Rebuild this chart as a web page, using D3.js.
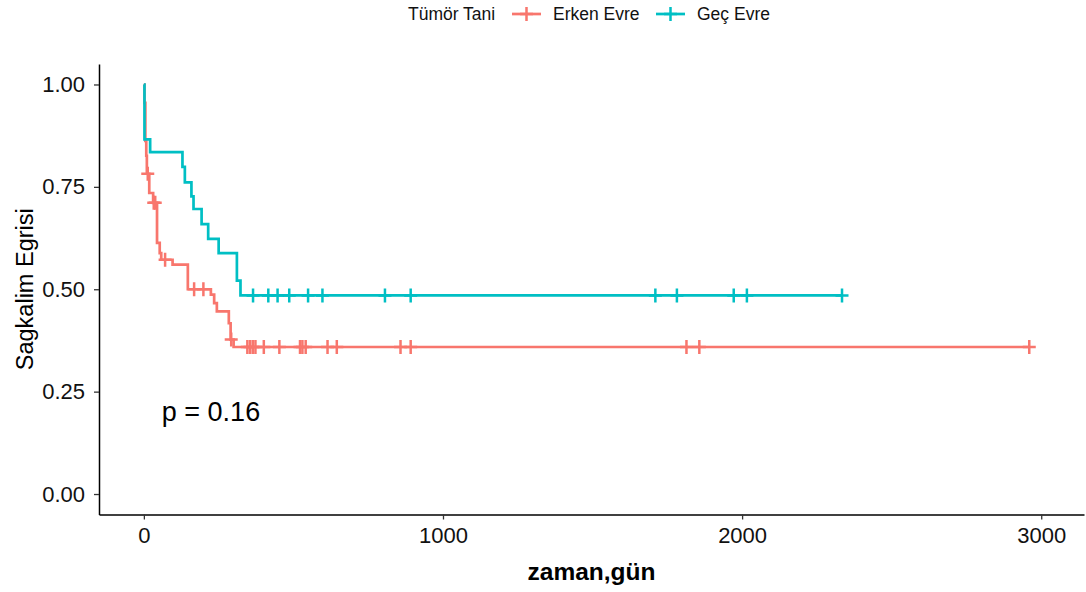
<!DOCTYPE html>
<html>
<head>
<meta charset="utf-8">
<script src="https://cdn.jsdelivr.net/npm/d3@7"></script>
<style>
  html, body { margin: 0; padding: 0; background: #fff; }
  svg { display: block; font-family: "Liberation Sans", Arial, sans-serif; }
</style>
</head>
<body>
<svg id="chart" width="1086" height="592"></svg>
<script>
// Kaplan–Meier survival curves by tumour stage at diagnosis

const groups = ["Erken Evre", "Geç Evre"];
const groupColors = ["#F8766D", "#00BFC4"];

// Erken Evre: event times (days) and survival after each step
const erkenTimes = [0, 2, 5, 8, 10, 18, 31, 44, 53, 58, 96, 147, 224, 235, 244, 284, 290, 300, 2960];
const erkenSurv  = [1.0, 0.955, 0.862, 0.826, 0.782, 0.735, 0.711, 0.613, 0.588, 0.572, 0.560, 0.500, 0.487, 0.466, 0.446, 0.417, 0.377, 0.359, 0.359];
const erkenCensored = [13, 33, 38, 71, 168, 199, 292, 346, 355, 364, 373, 401, 453, 522, 530, 541, 614, 645, 858, 892, 1814, 1857, 2960];

// Geç Evre: event times (days) and survival after each step
const gecTimes = [0, 2, 21, 129, 137, 159, 166, 193, 215, 250, 311, 323, 2334];
const gecSurv  = [1.0, 0.866, 0.835, 0.799, 0.761, 0.727, 0.696, 0.659, 0.623, 0.588, 0.521, 0.485, 0.485];
const gecCensored = [365, 416, 447, 486, 549, 597, 806, 892, 1710, 1782, 1972, 2016, 2334];

const xTicks = [0, 1000, 2000, 3000];
const yTicks = [0, 0.25, 0.5, 0.75, 1.0];

const legendTitle = "Tümör Tani";
const xTitle = "zaman,gün";
const yTitle = "Sagkalim Egrisi";
const pLabel = "p = 0.16";
const pPos = [60, 0.2];

const series = [
  { name: groups[0], color: groupColors[0], times: erkenTimes, surv: erkenSurv, cens: erkenCensored },
  { name: groups[1], color: groupColors[1], times: gecTimes, surv: gecSurv, cens: gecCensored }
];

const svg = d3.select("#chart");

const x = d3.scaleLinear().domain([-150, 3143]).range([99, 1084]);
const y = d3.scaleLinear().domain([-0.05, 1.05]).range([514.5, 64]);

// axes
const xAxis = svg.append("g")
  .attr("transform", `translate(0,${y.range()[0]})`)
  .call(d3.axisBottom(x).tickValues(xTicks).tickFormat(d3.format("d"))
    .tickSize(5).tickSizeOuter(0).tickPadding(8));
const yAxis = svg.append("g")
  .attr("transform", `translate(${x.range()[0]},0)`)
  .call(d3.axisLeft(y).tickValues(yTicks).tickFormat(d3.format(".2f"))
    .tickSize(5).tickSizeOuter(0).tickPadding(9));

[xAxis, yAxis].forEach(g => {
  g.select(".domain").attr("stroke", "#000").attr("stroke-width", 1.5);
  g.selectAll(".tick line").attr("stroke", "#333").attr("stroke-width", 1.3);
  g.selectAll(".tick text").attr("fill", "#111").attr("font-size", 22)
    .attr("font-family", "'Liberation Sans', Arial, sans-serif");
});

// step lookup for censor marks
function survAt(s, t) {
  let v = s.surv[0];
  for (let i = 0; i < s.times.length; i++) {
    if (s.times[i] <= t) v = s.surv[i]; else break;
  }
  return v;
}

const line = d3.line()
  .x(d => x(d[0]))
  .y(d => y(d[1]))
  .curve(d3.curveStepAfter);

const plus = "M-6.5,0H6.5M0,-7V7";

series.forEach(s => {
  const pts = s.times.map((t, i) => [t, s.surv[i]]);
  const g = svg.append("g");
  g.append("path")
    .attr("d", line(pts))
    .attr("fill", "none")
    .attr("stroke", s.color)
    .attr("stroke-width", 2.7);
  g.selectAll("path.cens")
    .data(s.cens)
    .join("path")
    .attr("class", "cens")
    .attr("d", plus)
    .attr("transform", t => `translate(${x(t)},${y(survAt(s, t))})`)
    .attr("stroke", s.color)
    .attr("stroke-width", 2.5)
    .attr("fill", "none");
});

// p-value
svg.append("text")
  .attr("x", x(pPos[0]))
  .attr("y", y(pPos[1]))
  .attr("dominant-baseline", "central")
  .attr("font-size", 27)
  .attr("fill", "#000")
  .text(pLabel);

// axis titles
svg.append("text")
  .attr("x", (x.range()[0] + x.range()[1]) / 2)
  .attr("y", 580)
  .attr("text-anchor", "middle")
  .attr("font-size", 24.5)
  .attr("font-weight", "bold")
  .attr("fill", "#000")
  .text(xTitle);

svg.append("text")
  .attr("transform", `translate(33,${(y.range()[0] + y.range()[1]) / 2}) rotate(-90)`)
  .attr("text-anchor", "middle")
  .attr("font-size", 23.5)
  .attr("fill", "#000")
  .text(yTitle);

// legend
const legend = svg.append("g").attr("font-size", 17.5);
legend.append("text")
  .attr("x", 408).attr("y", 14)
  .attr("dominant-baseline", "central")
  .attr("fill", "#111")
  .text(legendTitle);

const keyX = [512, 656];
const labelX = [553, 697];
series.forEach((s, i) => {
  const k = legend.append("g").attr("transform", `translate(${keyX[i]},14)`);
  k.append("line").attr("x1", 0).attr("x2", 29).attr("y1", 0).attr("y2", 0)
    .attr("stroke", s.color).attr("stroke-width", 2.7);
  k.append("path").attr("d", plus).attr("transform", "translate(14.5,0)")
    .attr("stroke", s.color).attr("stroke-width", 2.5).attr("fill", "none");
  legend.append("text")
    .attr("x", labelX[i]).attr("y", 14)
    .attr("dominant-baseline", "central")
    .attr("fill", "#111")
    .text(s.name);
});
</script>
</body>
</html>
